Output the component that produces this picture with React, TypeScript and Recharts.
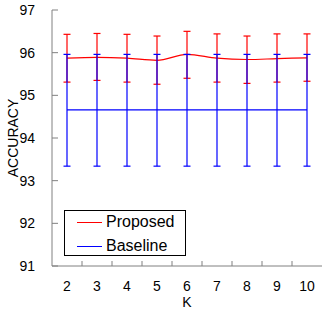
import {
  ComposedChart,
  Line,
  XAxis,
  YAxis,
  ErrorBar,
} from 'recharts';

const kValues = ['2', '3', '4', '5', '6', '7', '8', '9', '10'];
const proposedMean = [95.87, 95.89, 95.87, 95.82, 95.96, 95.87, 95.84, 95.86, 95.88];
const proposedHigh = [96.43, 96.45, 96.43, 96.39, 96.5, 96.44, 96.39, 96.44, 96.44];
const proposedLow = [95.31, 95.35, 95.31, 95.26, 95.4, 95.31, 95.28, 95.31, 95.33];
const baselineMean = [94.66, 94.66, 94.66, 94.66, 94.66, 94.66, 94.66, 94.66, 94.66];
const baselineHigh = [95.96, 95.96, 95.96, 95.96, 95.96, 95.96, 95.96, 95.96, 95.96];
const baselineLow = [93.34, 93.34, 93.34, 93.34, 93.34, 93.34, 93.34, 93.34, 93.34];
const yTicks = [91, 92, 93, 94, 95, 96, 97];

const data = kValues.map((k, i) => ({
  k,
  proposed: proposedMean[i],
  proposedErr: [proposedMean[i] - proposedLow[i], proposedHigh[i] - proposedMean[i]],
  baseline: baselineMean[i],
  baselineErr: [baselineMean[i] - baselineLow[i], baselineHigh[i] - baselineMean[i]],
}));

const FONT = '"Liberation Sans", Arial, sans-serif';
const AXIS = '#808080';
const PLOT_W = 270;
const band = PLOT_W / kValues.length;

// eslint-disable-next-line @typescript-eslint/no-explicit-any
function XTick({ x, y, index, payload }: any) {
  const last = index === kValues.length - 1;
  return (
    <g>
      {!last && (
        <line x1={x + band / 2} x2={x + band / 2} y1={y} y2={y - 5} stroke={AXIS} strokeWidth={1} />
      )}
      <text x={x} y={y + 25} textAnchor="middle" fontSize={14} fontFamily={FONT} fill="#000">
        {payload.value}
      </text>
    </g>
  );
}

// eslint-disable-next-line @typescript-eslint/no-explicit-any
function YTick({ x, y, payload }: any) {
  return (
    <g>
      <line x1={x} x2={x + 6} y1={y} y2={y} stroke={AXIS} strokeWidth={1} />
      <text x={x - 17} y={y + 5} textAnchor="end" fontSize={14} fontFamily={FONT} fill="#000">
        {payload.value}
      </text>
    </g>
  );
}

export default function App() {
  return (
    <div style={{ position: 'absolute', left: 0, top: 0, width: 327, height: 309, background: '#fff', fontFamily: FONT }}>
      <ComposedChart width={327} height={309} data={data} margin={{ top: 10, right: 5, bottom: 0, left: 0 }}>
        <XAxis
          dataKey="k"
          type="category"
          height={43}
          stroke={AXIS}
          padding={{ left: band / 2, right: band / 2 }}
          tickSize={0}
          tickMargin={0}
          tickLine={false}
          tick={<XTick />}
          interval={0}
          label={{ value: 'K', position: 'insideBottom', offset: 2, fontSize: 14, fill: '#000', fontFamily: FONT }}
        />
        <XAxis xAxisId="top" dataKey="k" orientation="top" height={0} stroke="#000" tick={false} tickLine={false} />
        <YAxis
          domain={[91, 97]}
          ticks={yTicks}
          type="number"
          width={52}
          stroke={AXIS}
          tickSize={0}
          tickMargin={0}
          tickLine={false}
          tick={<YTick />}
          interval={0}
          label={{ value: 'ACCURACY', angle: -90, position: 'center', dx: -13, fontSize: 14, fill: '#000', fontFamily: FONT }}
        />
        <YAxis yAxisId="right" orientation="right" domain={[91, 97]} type="number" width={0} stroke="#000" tick={false} tickLine={false} />
        <Line
          type="monotone"
          dataKey="proposed"
          stroke="#ff0000"
          strokeWidth={1.2}
          dot={false}
          isAnimationActive={false}
        >
          <ErrorBar dataKey="proposedErr" stroke="#ff0000" strokeWidth={1.2} width={3.5} isAnimationActive={false} />
        </Line>
        <Line
          type="linear"
          dataKey="baseline"
          stroke="#0000ff"
          strokeWidth={1.2}
          dot={false}
          isAnimationActive={false}
        >
          <ErrorBar dataKey="baselineErr" stroke="#0000ff" strokeWidth={1.2} width={3.5} isAnimationActive={false} />
        </Line>
      </ComposedChart>
      <div
        style={{
          position: 'absolute',
          left: 64,
          top: 210,
          width: 120,
          height: 44,
          border: '1px solid #000',
          background: '#fff',
          fontSize: 16,
          color: '#000',
        }}
      >
        {[
          { name: 'Proposed', color: '#ff0000', top: 0 },
          { name: 'Baseline', color: '#0000ff', top: 24 },
        ].map(item => (
          <div
            key={item.name}
            style={{ position: 'absolute', left: 12, top: item.top, height: 22, display: 'flex', alignItems: 'center' }}
          >
            <div style={{ width: 25, height: 1, background: item.color }} />
            <span style={{ marginLeft: 4, lineHeight: '22px' }}>{item.name}</span>
          </div>
        ))}
      </div>
    </div>
  );
}
